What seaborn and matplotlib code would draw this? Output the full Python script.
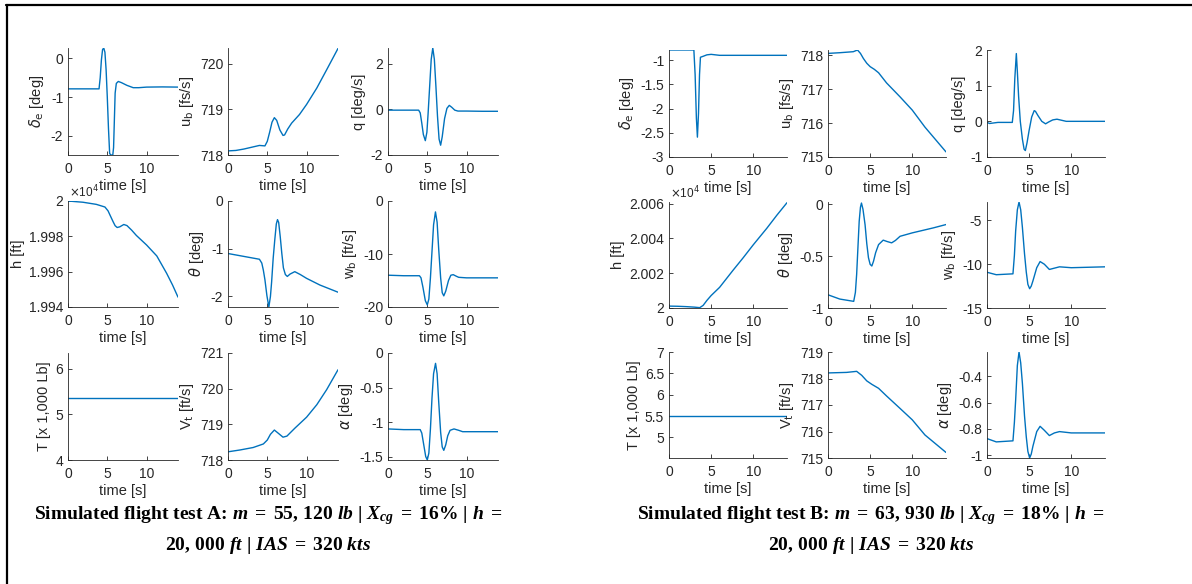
import matplotlib
matplotlib.use('Agg')
import matplotlib.pyplot as plt
import seaborn as sns
from matplotlib.lines import Line2D
from matplotlib.ticker import FuncFormatter

# ---- Simulated flight test A ----
t_de_a = [0, 3.95, 4.1, 4.25, 4.4, 4.55, 4.7, 4.85, 5.0, 5.15, 5.3, 5.45, 5.7, 5.8, 5.9, 6.0, 6.15, 6.4, 6.8, 7.5, 8.3, 9, 10, 12, 14]
de_a = [-0.79, -0.79, -0.5, -0.05, 0.22, 0.26, 0.15, -0.3, -1.0, -1.8, -2.45, -2.49, -2.49, -2.3, -1.6, -0.9, -0.65, -0.6, -0.63, -0.7, -0.76, -0.76, -0.745, -0.74, -0.745]

t_ub_a = [0, 1, 2, 3, 4, 4.7, 5.0, 5.3, 5.6, 5.9, 6.2, 6.6, 7.0, 7.2, 7.6, 8.1, 9.1, 10, 11.3, 12.55, 14]
ub_a = [718.09, 718.1, 718.13, 718.17, 718.21, 718.2, 718.3, 718.5, 718.72, 718.82, 718.76, 718.55, 718.43, 718.44, 718.57, 718.7, 718.89, 719.11, 719.47, 719.87, 720.34]

t_q_a = [0, 3.9, 4.1, 4.3, 4.5, 4.75, 4.95, 5.1, 5.3, 5.5, 5.7, 5.9, 6.1, 6.3, 6.5, 6.7, 6.9, 7.2, 7.5, 7.8, 8.1, 8.5, 8.9, 10, 12, 14]
q_a = [-0.03, -0.03, -0.15, -0.6, -1.1, -1.37, -1.0, -0.2, 1.0, 2.2, 2.7, 2.2, 1.0, -0.3, -1.3, -1.57, -1.2, -0.4, 0.05, 0.18, 0.1, -0.03, -0.07, -0.07, -0.08, -0.08]

t_h_a = [0, 1.9, 3.6, 4.7, 5.1, 5.4, 5.75, 6.0, 6.26, 6.6, 7.1, 7.5, 8.1, 8.7, 10, 11.3, 12.55, 13.3, 14]
h_a = [20000, 19999.3, 19998.1, 19996.6, 19994.4, 19991.5, 19988.2, 19986, 19985, 19985.4, 19986.7, 19986.1, 19983.5, 19980.5, 19975.1, 19968.9, 19959.1, 19952.5, 19945.6]

t_th_a = [0, 2, 4.0, 4.3, 4.5, 4.7, 4.95, 5.2, 5.4, 5.55, 5.75, 5.95, 6.15, 6.3, 6.45, 6.65, 6.85, 7.05, 7.3, 7.55, 7.9, 8.5, 9.2, 10, 11.7, 14]
th_a = [-1.10, -1.16, -1.22, -1.3, -1.45, -1.65, -1.98, -2.22, -2.0, -1.7, -1.2, -0.82, -0.48, -0.39, -0.45, -0.75, -1.1, -1.4, -1.54, -1.58, -1.53, -1.48, -1.54, -1.62, -1.76, -1.91]

t_wb_a = [0, 2, 4.0, 4.2, 4.45, 4.75, 5.0, 5.2, 5.4, 5.6, 5.8, 6.04, 6.25, 6.45, 6.7, 6.9, 7.1, 7.35, 7.7, 8.0, 8.3, 8.7, 9.0, 10, 14]
wb_a = [-14.0, -14.1, -14.1, -14.5, -16.3, -18.8, -19.6, -18.5, -14.5, -9.5, -4.5, -2.06, -4, -9, -14.5, -17.3, -17.9, -17.0, -15.0, -14.0, -13.9, -14.2, -14.4, -14.5, -14.5]

t_T_a = [0, 14]
T_a = [5.37, 5.37]

t_vt_a = [0, 1.5, 3.2, 4.5, 5.0, 5.4, 5.9, 6.4, 7.0, 7.5, 8.5, 10, 11.3, 12.55, 14]
vt_a = [718.23, 718.28, 718.35, 718.45, 718.56, 718.72, 718.84, 718.75, 718.64, 718.67, 718.89, 719.2, 719.55, 719.97, 720.53]

t_al_a = [0, 2, 4.1, 4.3, 4.55, 4.8, 5.0, 5.2, 5.4, 5.6, 5.8, 6.05, 6.25, 6.45, 6.7, 6.9, 7.1, 7.35, 7.6, 7.9, 8.4, 9.0, 9.5, 14]
al_a = [-1.10, -1.11, -1.11, -1.16, -1.33, -1.5, -1.55, -1.45, -1.1, -0.65, -0.3, -0.15, -0.3, -0.7, -1.15, -1.36, -1.41, -1.33, -1.2, -1.12, -1.10, -1.12, -1.14, -1.14]

# ---- Simulated flight test B ----
t_de_b = [0, 2.95, 3.1, 3.25, 3.37, 3.5, 3.62, 3.73, 4.05, 4.5, 5.0, 6.0, 8, 10, 14]
de_b = [-0.79, -0.79, -1.3, -2.2, -2.59, -2.1, -1.3, -0.94, -0.92, -0.89, -0.88, -0.9, -0.9, -0.9, -0.9]

t_ub_b = [0, 1.4, 3.0, 3.5, 3.85, 4.2, 4.6, 5.0, 5.5, 6.0, 6.95, 8.55, 10, 11.5, 14]
ub_b = [718.05, 718.07, 718.1, 718.15, 718.05, 717.9, 717.76, 717.66, 717.58, 717.48, 717.18, 716.77, 716.38, 715.88, 715.15]

t_q_b = [0, 0.3, 1.3, 3.0, 3.15, 3.3, 3.48, 3.6, 3.75, 3.95, 4.2, 4.4, 4.55, 4.75, 5.0, 5.3, 5.6, 5.75, 6.05, 6.5, 6.95, 7.3, 7.8, 8.3, 9.4, 14]
q_b = [-0.03, -0.06, -0.03, -0.03, 0.3, 1.2, 1.9, 1.4, 0.7, 0.0, -0.5, -0.78, -0.82, -0.6, -0.25, 0.12, 0.3, 0.28, 0.16, 0.0, -0.07, -0.02, 0.04, 0.06, 0.0, 0.0]

t_h_b = [0, 1, 2, 3, 3.65, 4.05, 4.5, 5.0, 6.0, 7.6, 8.8, 10, 11.6, 12.8, 14]
h_b = [20000.9, 20000.8, 20000.6, 20000.3, 20000.0, 20001.3, 20004.2, 20007, 20011.7, 20021.6, 20028.8, 20036.3, 20045.8, 20053.4, 20060.6]

t_th_b = [0, 1.4, 3.05, 3.25, 3.4, 3.55, 3.7, 3.85, 3.97, 4.15, 4.4, 4.6, 4.8, 5.0, 5.2, 5.4, 5.65, 6.0, 6.55, 7.0, 7.55, 8.0, 8.55, 10, 12.5, 14]
th_b = [-0.873, -0.914, -0.936, -0.85, -0.675, -0.42, -0.166, -0.03, 0.01, -0.05, -0.2, -0.38, -0.516, -0.58, -0.596, -0.55, -0.468, -0.39, -0.347, -0.36, -0.373, -0.35, -0.31, -0.277, -0.229, -0.197]

t_wb_b = [0, 1.1, 3.08, 3.25, 3.4, 3.6, 3.8, 4.0, 4.2, 4.45, 4.66, 4.85, 5.06, 5.25, 5.45, 5.9, 6.3, 6.8, 7.4, 7.8, 8.6, 10, 14]
wb_b = [-10.92, -11.2, -11.1, -9.0, -6.2, -3.8, -2.9, -3.8, -5.8, -8.8, -10.9, -12.3, -12.8, -12.5, -11.9, -10.4, -9.7, -10.0, -10.6, -10.5, -10.3, -10.4, -10.3]

t_T_b = [0, 14]
T_b = [5.51, 5.51]

t_vt_b = [0, 2.2, 3.4, 4.0, 4.6, 5.2, 6.0, 6.95, 8.55, 10, 11.5, 14]
vt_b = [718.21, 718.23, 718.27, 718.12, 717.91, 717.78, 717.63, 717.34, 716.87, 716.44, 715.87, 715.21]

t_al_b = [0, 1.1, 3.08, 3.25, 3.4, 3.6, 3.8, 4.0, 4.2, 4.45, 4.66, 4.85, 5.06, 5.25, 5.45, 5.9, 6.3, 6.8, 7.4, 8.0, 8.6, 10, 14]
al_b = [-0.873, -0.898, -0.89, -0.75, -0.58, -0.32, -0.217, -0.3, -0.455, -0.7, -0.86, -0.97, -1.02, -0.99, -0.93, -0.82, -0.78, -0.81, -0.85, -0.83, -0.82, -0.83, -0.83]

ylabels = [r'$\delta_\mathrm{e}$ [deg]', r'u$_\mathrm{b}$ [fs/s]', 'q [deg/s]',
           'h [ft]', r'$\theta$ [deg]', r'w$_\mathrm{b}$ [ft/s]',
           'T [x 1,000 Lb]', r'V$_\mathrm{t}$ [ft/s]', r'$\alpha$ [deg]']

caption_a = ['Simulated flight test A: ' + r'$m\;=\;55,\,120\ lb\ |\ X_{cg}\;=\;16\%\ |\ h\;=$',
             r'$20,\,000\ ft\ |\ IAS\;=\;320\ kts$']
caption_b = ['Simulated flight test B: ' + r'$m\;=\;63,\,930\ lb\ |\ X_{cg}\;=\;18\%\ |\ h\;=$',
             r'$20,\,000\ ft\ |\ IAS\;=\;320\ kts$']

sns.set_style('ticks')
plt.rcParams['font.family'] = ['Liberation Sans', 'DejaVu Sans']
plt.rcParams['axes.unicode_minus'] = False
plt.rcParams['mathtext.fontset'] = 'dejavusans'
plt.rcParams['mathtext.rm'] = 'Liberation Serif:bold'
plt.rcParams['mathtext.it'] = 'Liberation Serif:italic:bold'
plt.rcParams['mathtext.bf'] = 'Liberation Serif:bold'

W, H = 1192, 584
fig = plt.figure(figsize=(W / 100, H / 100), dpi=100)

grey = '#262626'
blue = '#0072BD'

panels_a = [
    (t_de_a, de_a, (-2.49, 0.26), [-2, -1, 0]),
    (t_ub_a, ub_a, (718.0, 720.35), [718, 719, 720]),
    (t_q_a, q_a, (-2.0, 2.7), [-2, 0, 2]),
    (t_h_a, h_a, (19940, 20000), [19940, 19960, 19980, 20000]),
    (t_th_a, th_a, (-2.22, 0), [-2, -1, 0]),
    (t_wb_a, wb_a, (-20, 0), [-20, -10, 0]),
    (t_T_a, T_a, (4, 6.35), [4, 5, 6]),
    (t_vt_a, vt_a, (718, 721), [718, 719, 720, 721]),
    (t_al_a, al_a, (-1.55, 0), [-1.5, -1, -0.5, 0]),
]
panels_b = [
    (t_de_b, de_b, (-3, -0.79), [-3, -2.5, -2, -1.5, -1]),
    (t_ub_b, ub_b, (715, 718.15), [715, 716, 717, 718]),
    (t_q_b, q_b, (-1, 2), [-1, 0, 1, 2]),
    (t_h_b, h_b, (19999.8, 20061), [20000, 20020, 20040, 20060]),
    (t_th_b, th_b, (-1, 0.02), [-1, -0.5, 0]),
    (t_wb_b, wb_b, (-15, -2.9), [-15, -10, -5]),
    (t_T_b, T_b, (4.52, 7), [5, 5.5, 6, 6.5, 7]),
    (t_vt_b, vt_b, (715, 719), [715, 716, 717, 718, 719]),
    (t_al_b, al_b, (-1.02, -0.217), [-1, -0.8, -0.6, -0.4]),
]

cols_a = [(68, 178), (228, 338), (388, 498)]
rows_a = [(48, 155), (201, 307), (353, 460)]
cols_b = [(669, 787), (828, 946), (987, 1105)]
rows_b = [(50, 157), (202, 308), (352, 458)]


def draw_group(panels, cols, rows):
    for i, (t, y, ylim, yticks) in enumerate(panels):
        x0, x1 = cols[i % 3]
        y0, y1 = rows[i // 3]
        ax = fig.add_axes([x0 / W, 1 - y1 / H, (x1 - x0) / W, (y1 - y0) / H])
        sns.lineplot(x=t, y=y, ax=ax, color=blue, linewidth=1.0)
        ax.set_xlim(0, 14)
        ax.set_ylim(*ylim)
        ax.set_xticks([0, 5, 10])
        ax.set_yticks(yticks)
        ax.yaxis.set_major_formatter(FuncFormatter(lambda v, p: f'{v:g}'))
        if i == 3:
            # MATLAB-style exponent label above the h axis
            ax.yaxis.set_major_formatter(FuncFormatter(lambda v, p: f'{v / 1e4:g}'))
            ax.text(0.01, 1.01, r'$\times$10$^4$', transform=ax.transAxes,
                    fontsize=8.5, color=grey, ha='left', va='bottom')
        ax.set_xlabel('time [s]', fontsize=10.5, color=grey, labelpad=2)
        ax.set_ylabel(ylabels[i], fontsize=10.5, color=grey, labelpad=3)
        ax.tick_params(axis='x', pad=5)
        ax.tick_params(direction='in', length=3, width=0.6, colors=grey,
                       labelsize=10)
        for s in ['left', 'bottom']:
            ax.spines[s].set_color(grey)
            ax.spines[s].set_linewidth(0.6)
        sns.despine(ax=ax)


draw_group(panels_a, cols_a, rows_a)
draw_group(panels_b, cols_b, rows_b)

for cx, cap in [(268, caption_a), (871, caption_b)]:
    for line, cy in zip(cap, [516, 545]):
        fig.text(cx / W, 1 - cy / H, line, ha='center', va='center',
                 fontsize=14, family='Liberation Serif', weight='bold',
                 color='black', math_fontfamily='custom')

# frame around the figure
fig.add_artist(Line2D([6 / W, 1], [1 - 5 / H, 1 - 5 / H], color='black', linewidth=1.6,
                      transform=fig.transFigure))
fig.add_artist(Line2D([6.5 / W, 6.5 / W], [0, 1 - 5 / H], color='black', linewidth=1.6,
                      transform=fig.transFigure))

fig.savefig('out.png', dpi=100)
